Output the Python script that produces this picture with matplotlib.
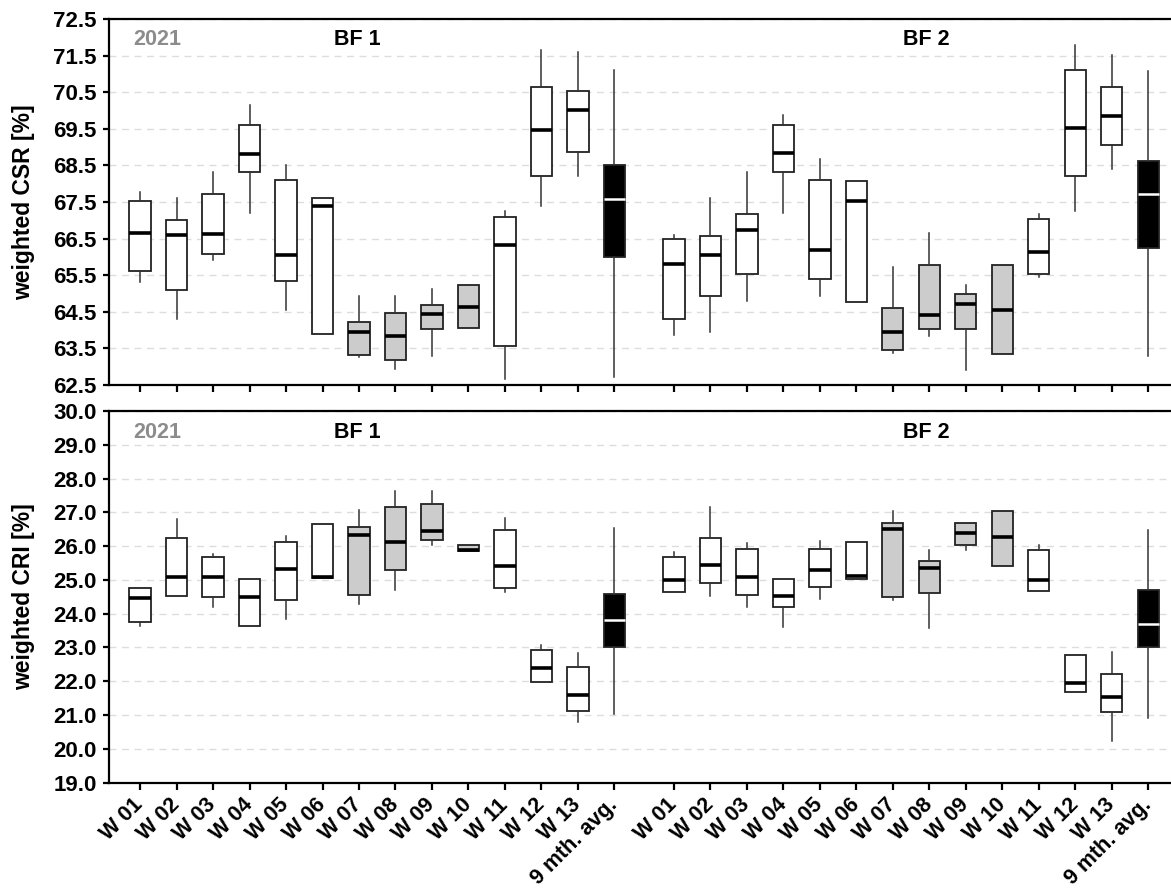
import matplotlib

matplotlib.use("Agg")
import matplotlib.pyplot as plt  # noqa: E402
import numpy as np  # noqa: E402

plt.rcParams["font.family"] = ["Liberation Sans", "DejaVu Sans"]
plt.rcParams["font.weight"] = "bold"
plt.rcParams["axes.labelweight"] = "bold"

# x categories (same for both blast furnaces)
labels = ["W 01", "W 02", "W 03", "W 04", "W 05", "W 06", "W 07",
          "W 08", "W 09", "W 10", "W 11", "W 12", "W 13", "9 mth. avg."]

# each box: (whisker low, q1, median, q3, whisker high)
csr_bf1 = [
    (65.31, 65.61, 66.66, 67.53, 67.76),
    (64.30, 65.10, 66.61, 67.00, 67.61),
    (65.92, 66.09, 66.62, 67.72, 68.32),
    (67.21, 68.31, 68.81, 69.60, 70.15),
    (64.55, 65.35, 66.05, 68.10, 68.50),
    (63.89, 63.89, 67.38, 67.61, 67.61),
    (63.27, 63.32, 63.94, 64.21, 64.93),
    (62.95, 63.18, 63.84, 64.46, 64.93),
    (63.30, 64.03, 64.45, 64.68, 65.12),
    (64.06, 64.06, 64.62, 65.24, 65.24),
    (62.66, 63.57, 66.33, 67.10, 67.25),
    (67.38, 68.21, 69.48, 70.63, 71.66),
    (68.20, 68.86, 70.02, 70.53, 71.61),
    (62.72, 66.01, 67.58, 68.50, 71.11),
]
csr_bf2 = [
    (63.87, 64.31, 65.80, 66.50, 66.61),
    (63.94, 64.92, 66.05, 66.57, 67.61),
    (64.80, 65.53, 66.73, 67.17, 68.32),
    (67.20, 68.31, 68.83, 69.60, 69.87),
    (64.94, 65.39, 66.19, 68.09, 68.68),
    (64.78, 64.78, 67.52, 68.07, 68.07),
    (63.37, 63.45, 63.94, 64.61, 65.72),
    (63.84, 64.03, 64.41, 65.78, 66.65),
    (62.91, 64.03, 64.70, 64.99, 65.22),
    (63.35, 63.35, 64.55, 65.78, 65.78),
    (65.45, 65.53, 66.14, 67.03, 67.18),
    (67.26, 68.21, 69.52, 71.11, 71.80),
    (68.40, 69.06, 69.84, 70.64, 71.51),
    (63.29, 66.23, 67.73, 68.61, 71.08),
]
cri_bf1 = [
    (23.63, 23.75, 24.46, 24.77, 24.77),
    (24.52, 24.52, 25.09, 26.23, 26.79),
    (24.20, 24.48, 25.09, 25.68, 25.78),
    (23.63, 23.63, 24.50, 25.03, 25.03),
    (23.83, 24.40, 25.32, 26.11, 26.31),
    (25.06, 25.06, 25.08, 26.65, 26.65),
    (24.28, 24.56, 26.32, 26.58, 27.08),
    (24.70, 25.29, 26.13, 27.15, 27.63),
    (26.03, 26.18, 26.44, 27.26, 27.63),
    (25.87, 25.87, 25.88, 26.04, 26.04),
    (24.64, 24.76, 25.42, 26.49, 26.82),
    (21.98, 21.98, 22.39, 22.91, 23.07),
    (20.80, 21.13, 21.58, 22.41, 22.84),
    (21.04, 23.02, 23.81, 24.57, 26.55),
]
cri_bf2 = [
    (24.65, 24.65, 25.01, 25.68, 25.84),
    (24.52, 24.91, 25.45, 26.23, 27.16),
    (24.20, 24.56, 25.09, 25.91, 26.08),
    (23.61, 24.21, 24.51, 25.03, 25.03),
    (24.43, 24.79, 25.28, 25.91, 26.16),
    (25.02, 25.02, 25.12, 26.11, 26.11),
    (24.40, 24.49, 26.50, 26.69, 27.05),
    (23.59, 24.60, 25.36, 25.56, 25.88),
    (25.90, 26.03, 26.40, 26.69, 26.69),
    (25.42, 25.42, 26.26, 27.04, 27.04),
    (24.68, 24.68, 25.01, 25.88, 26.04),
    (21.67, 21.67, 21.96, 22.79, 22.79),
    (20.23, 21.09, 21.54, 22.22, 22.87),
    (20.92, 23.02, 23.69, 24.69, 26.47),
]

csr_ticks = np.arange(62.5, 72.51, 1.0)
cri_ticks = np.arange(19.0, 30.01, 1.0)

pos_bf1 = np.arange(14)
pos_bf2 = np.arange(14) + 14.63


def fill_for(i):
    if i == 13:
        return "black"
    if 6 <= i <= 9:
        return "#cccccc"
    return "white"


def draw_group(ax, boxes, positions):
    stats = [dict(whislo=b[0], q1=b[1], med=b[2], q3=b[3], whishi=b[4],
                  fliers=[]) for b in boxes]
    art = ax.bxp(stats, positions=positions, widths=0.58, patch_artist=True,
                 showcaps=False, showfliers=False,
                 boxprops=dict(edgecolor="#222222", linewidth=1.3),
                 whiskerprops=dict(color="#333333", linewidth=1.1),
                 medianprops=dict(color="black", linewidth=2.6,
                                  solid_capstyle="butt"))
    for i, patch in enumerate(art["boxes"]):
        patch.set_facecolor(fill_for(i))
    art["medians"][13].set_color("white")
    art["medians"][13].set_linewidth(1.8)


def style_axis(ax, ticks, ylabel, fmt):
    ax.set_ylim(ticks[0], ticks[-1])
    ax.set_yticks(ticks)
    ax.set_yticklabels([fmt.format(t) for t in ticks], fontsize=16)
    ax.set_xlim(-0.85, 28.25)
    ax.set_ylabel(ylabel, fontsize=16.5)
    ax.yaxis.set_label_coords(-0.07, 0.5)
    ax.yaxis.grid(True, linestyle=(0, (5, 4)), color="#dddddd", lw=1.0)
    ax.set_axisbelow(True)
    ax.spines["right"].set_visible(False)
    for s in ("top", "left", "bottom"):
        ax.spines[s].set_linewidth(1.6)
    ax.tick_params(axis="y", length=4, width=1.6, pad=5)
    ax.tick_params(axis="x", length=5, width=1.6)
    ax.text(0.045, 0.943, "2021", transform=ax.transAxes, ha="center",
            va="center", color="#8c8c8c", fontsize=15.5)
    ax.text(0.2335, 0.943, "BF 1", transform=ax.transAxes, ha="center",
            va="center", color="black", fontsize=15.5)
    ax.text(0.770, 0.943, "BF 2", transform=ax.transAxes, ha="center",
            va="center", color="black", fontsize=15.5)


fig = plt.figure(figsize=(11.71, 8.93), dpi=100)
ax1 = fig.add_axes([0.0931, 0.5689, 0.9069, 0.4098])
ax2 = fig.add_axes([0.0931, 0.1237, 0.9069, 0.4160])

draw_group(ax1, csr_bf1, pos_bf1)
draw_group(ax1, csr_bf2, pos_bf2)
draw_group(ax2, cri_bf1, pos_bf1)
draw_group(ax2, cri_bf2, pos_bf2)

style_axis(ax1, csr_ticks, "weighted CSR [%]", "{:.1f}")
style_axis(ax2, cri_ticks, "weighted CRI [%]", "{:.1f}")

all_pos = np.concatenate([pos_bf1, pos_bf2])
ax1.set_xticks(all_pos)
ax1.set_xticklabels([])
ax2.set_xticks(all_pos)
ax2.set_xticklabels(labels + labels, rotation=45, ha="right", va="center",
                    rotation_mode="anchor", fontsize=15.5)
ax2.tick_params(axis="x", pad=9)

fig.savefig("out.png", dpi=100)
print("saved out.png")
